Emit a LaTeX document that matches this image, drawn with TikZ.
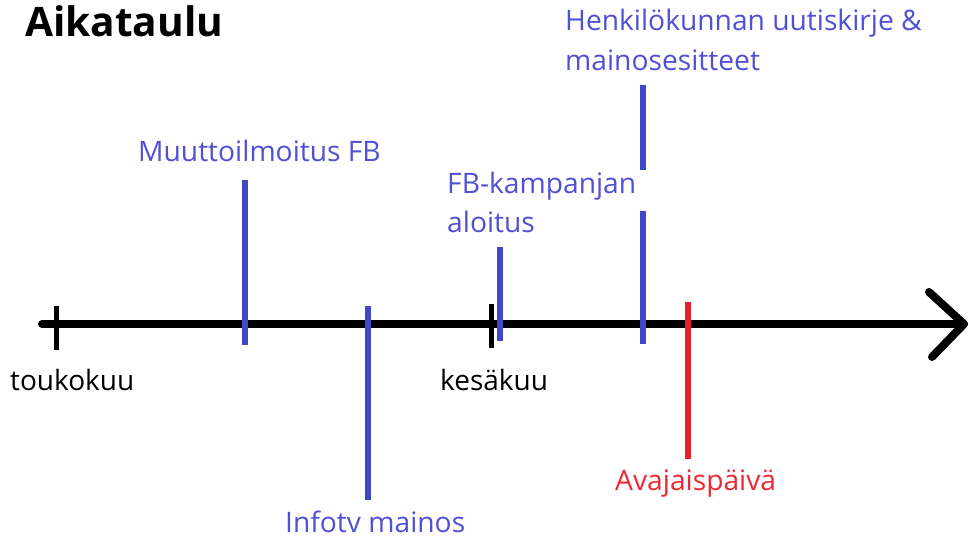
\documentclass[tikz,border=0pt]{standalone}
\usepackage{fontspec}
\setmainfont{Open Sans}
\begin{document}
\begin{tikzpicture}[x=1pt,y=-1pt,
  axisline/.style={line width=8pt,black,line cap=round,line join=round},
  monthtick/.style={line width=5pt,black},
  eventline/.style={line width=5.5pt,eventblue},
  openline/.style={line width=5.5pt,eventred},
  eventlabel/.style={anchor=base west,inner sep=0pt,text=labelblue,font=\fontsize{28.2}{40}\selectfont,align=left},
  monthlabel/.style={anchor=base west,inner sep=0pt,text=black,font=\fontsize{28}{40}\selectfont}]
\definecolor{eventblue}{RGB}{64,71,200}
\definecolor{labelblue}{RGB}{80,80,215}
\definecolor{eventred}{RGB}{232,30,40}
\definecolor{labelred}{RGB}{238,40,50}
\useasboundingbox (0,0) rectangle (969,538);

% title
\node[anchor=base west,inner sep=0pt,font=\fontsize{40.6}{48}\selectfont\bfseries] (title) at (25,36) {Aikataulu};

% time axis with arrow head
\coordinate (axisstart) at (42,324);
\coordinate (axisend) at (964,324);
\draw[axisline] (axisstart) -- (axisend);
\coordinate (headup) at (929,292);
\coordinate (headdown) at (932,357);
\draw[axisline] (headup) -- (axisend) -- (headdown);

% month ticks
\coordinate (mayTop) at (56,306);   \coordinate (mayBot) at (56,350);
\coordinate (juneTop) at (491,304); \coordinate (juneBot) at (491,348);
\draw[monthtick] (mayTop) -- (mayBot);
\draw[monthtick] (juneTop) -- (juneBot);
\node[monthlabel] (may) at (10,390) {toukokuu};
\node[monthlabel] (june) at (440,390) {kesäkuu};

% events
\coordinate (moveTop) at (245,180); \coordinate (moveBot) at (245,345);
\draw[eventline] (moveTop) -- (moveBot);
\node[eventlabel] (move) at (138,161) {Muuttoilmoitus FB};

\coordinate (tvTop) at (368,306); \coordinate (tvBot) at (368,500);
\draw[eventline] (tvTop) -- (tvBot);
\node[eventlabel] (tv) at (285,532) {Infotv mainos};

\coordinate (fbTop) at (500,247); \coordinate (fbBot) at (500,341);
\draw[eventline] (fbTop) -- (fbBot);
\node[eventlabel,font=\fontsize{28.2}{39}\selectfont] (fb) at (447,232) {FB-kampanjan\\aloitus};

\coordinate (staffTop) at (643,85);  \coordinate (staffGapA) at (643,170);
\coordinate (staffGapB) at (643,211); \coordinate (staffBot) at (643,344);
\draw[eventline] (staffTop) -- (staffGapA);
\draw[eventline] (staffGapB) -- (staffBot);
\node[eventlabel] (staff) at (565,70) {Henkilökunnan uutiskirje \&\\mainosesitteet};

% opening day
\coordinate (openTop) at (688,302); \coordinate (openBot) at (688,459);
\draw[openline] (openTop) -- (openBot);
\node[eventlabel,text=labelred] (open) at (615,490) {Avajaispäivä};
\end{tikzpicture}
\end{document}
